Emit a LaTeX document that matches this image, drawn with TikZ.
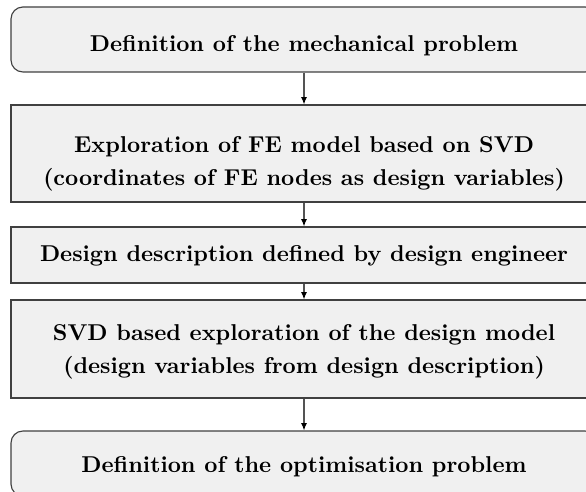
\documentclass[tikz,border=0pt]{standalone}
\usetikzlibrary{arrows.meta}
\definecolor{boxfill}{gray}{0.94}
\definecolor{boxline}{gray}{0.25}
\definecolor{flowline}{gray}{0.33}
\newcommand\pxu{0.4367pt}
\tikzset{
  stage/.style={draw=boxline, fill=boxfill, line width=0.5pt, inner sep=0pt,
    minimum width=586*\pxu},
  roundstage/.style={stage, rounded corners=5.2pt},
  caption/.style={anchor=base, align=center, inner sep=0pt,
    font=\bfseries\fontsize{10}{14}\selectfont},
  flow/.style={draw=flowline, line width=0.5pt,
    -{Latex[length=3.2pt,width=2.6pt,color=black,fill=black]}},
}
\begin{document}
\begin{tikzpicture}[x=0.4367pt, y=-0.4367pt]
  \useasboundingbox (0,0) rectangle (586,491);
  \clip (0,0) rectangle (586,491);
  % process stages
  \node[roundstage, minimum height=65*\pxu] (s1) at (304,39.5) {};
  \node[stage, minimum height=97*\pxu] (s2) at (304,153.5) {};
  \node[stage, minimum height=56*\pxu] (s3) at (304,255) {};
  \node[stage, minimum height=98*\pxu] (s4) at (304,349) {};
  \node[roundstage, minimum height=65*\pxu] (s5) at (304,463.5) {};
  % stage texts (base anchor sits on the last line)
  \node[caption] (t1) at (304,51.7) {Definition of the mechanical problem};
  \node[caption] (t2) at (304,185) {Exploration of FE model based on SVD\\(coordinates of FE nodes as design variables)};
  \node[caption] (t3) at (304,261.7) {Design description defined by design engineer};
  \node[caption] (t4) at (304,373) {SVD based exploration of the design model\\(design variables from design description)};
  \node[caption] (t5) at (304,472.7) {Definition of the optimisation problem};
  % flow between stages
  \draw[flow] (s1.south) -- (s2.north);
  \draw[flow] (s2.south) -- (s3.north);
  \draw[flow] (s3.south) -- (s4.north);
  \draw[flow] (s4.south) -- (s5.north);
\end{tikzpicture}
\end{document}
